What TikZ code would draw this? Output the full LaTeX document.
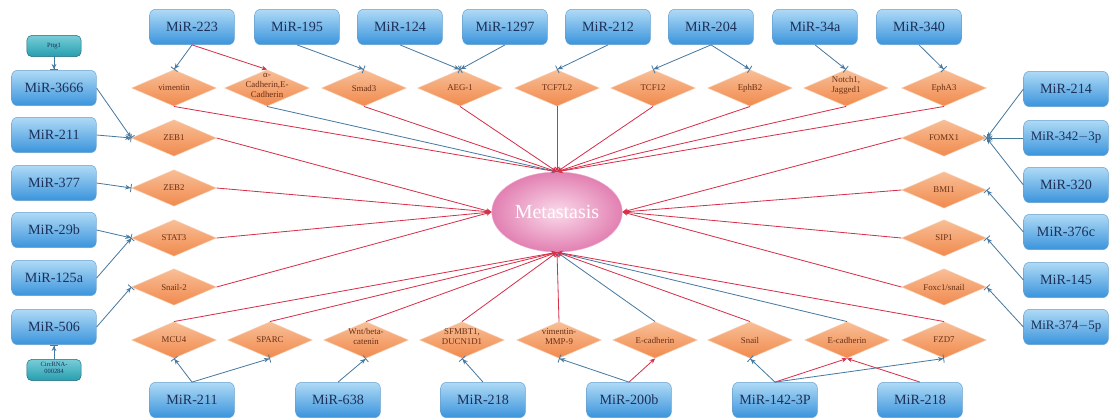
\documentclass[tikz,border=0pt]{standalone}
\usepackage{fontspec}
\setmainfont{Liberation Serif}
\usetikzlibrary{shapes.geometric}
\usetikzlibrary{arrows.meta}
\usetikzlibrary{positioning}

\definecolor{mirtop}{RGB}{175,218,246}
\definecolor{mirbot}{RGB}{58,148,220}
\definecolor{mirline}{RGB}{105,160,205}
\definecolor{mirtext}{RGB}{28,48,88}
\definecolor{tgttop}{RGB}{249,190,150}
\definecolor{tgtbot}{RGB}{240,138,78}
\definecolor{tgtline}{RGB}{246,205,175}
\definecolor{tgttext}{RGB}{105,48,20}
\definecolor{uptop}{RGB}{120,205,215}
\definecolor{upbot}{RGB}{38,158,175}
\definecolor{upline}{RGB}{30,105,118}
\definecolor{actred}{RGB}{214,48,74}
\definecolor{inhblue}{RGB}{72,122,160}
\definecolor{metin}{RGB}{250,218,234}
\definecolor{metout}{RGB}{226,128,178}
\definecolor{metline}{RGB}{235,170,205}

\newcommand{\dlines}[1]{\smash{\begin{tabular}{@{}c@{}}#1\end{tabular}}}

\tikzset{
mir/.style={rounded corners=5pt, draw=mirline, top color=mirtop, bottom color=mirbot,
  minimum width=72pt, minimum height=30pt, inner sep=0pt, text=mirtext,
  font=\fontsize{12}{12}\selectfont},
tgt/.style={diamond, draw=tgtline, top color=tgttop, bottom color=tgtbot, aspect=2.3,
  minimum width=72pt, minimum height=31pt, inner sep=0pt, text=tgttext,
  font=\fontsize{7.5}{8.5}\selectfont},
up/.style={rounded corners=4pt, draw=upline, top color=uptop, bottom color=upbot,
  minimum width=46pt, minimum height=18pt, inner sep=0pt, text=mirtext,
  font=\fontsize{5.5}{6}\selectfont},
act/.style={draw=actred, line width=0.7pt, -{Stealth[length=4.5pt,width=4pt]}},
inh/.style={draw=inhblue, line width=0.7pt, -{Stealth[length=4.5pt,width=4pt] Bar[width=7pt]}},
bl/.style={draw=inhblue, line width=0.7pt, -{Stealth[length=4.5pt,width=4pt]}}
}

\begin{document}
\begin{tikzpicture}[x=0.85pt,y=-0.85pt]
\useasboundingbox (0,0) rectangle (1113,418);

\node[ellipse, minimum width=89pt, minimum height=68pt, draw=metline,
  inner color=metin, outer color=metout,
  text=white, font=\fontsize{17}{17}\selectfont] (met) at (557,212) {Metastasis};

\node[mir] (m223) at (192,27) {MiR-223};
\node[mir] (m195) at (297,27) {MiR-195};
\node[mir] (m124) at (400,27) {MiR-124};
\node[mir] (m1297) at (505,27) {MiR-1297};
\node[mir] (m212) at (608,27) {MiR-212};
\node[mir] (m204) at (711,27) {MiR-204};
\node[mir] (m34a) at (815,27) {MiR-34a};
\node[mir] (m340) at (919,27) {MiR-340};

\node[tgt] (vim) at (174,88) {vimentin};
\node[tgt] (acad) at (267,88) {\dlines{α-\\Cadherin,E-\\Cadherin}};
\node[tgt] (smad) at (364,88) {Smad3};
\node[tgt] (aeg) at (460,88) {AEG-1};
\node[tgt] (tcfl) at (557,88) {TCF7L2};
\node[tgt] (tcf) at (653,88) {TCF12};
\node[tgt] (ephb) at (750,88) {EphB2};
\node[tgt] (notch) at (846,88) {\dlines{Notch1,\\Jagged1}};
\node[tgt] (epha) at (944,88) {EphA3};

\node[up] (pttg) at (54,46) {Pttg1};
\node[mir] (m3666) at (54,88) {MiR-3666};
\node[mir] (m211a) at (54,135) {MiR-211};
\node[mir] (m377) at (54,183) {MiR-377};
\node[mir] (m29b) at (54,230) {MiR-29b};
\node[mir] (m125a) at (54,278) {MiR-125a};
\node[mir] (m506) at (54,327) {MiR-506};
\node[up] (circ) at (54,370) {\dlines{CircRNA-\\000284}};

\node[tgt] (zeba) at (174,138) {ZEB1};
\node[tgt] (zebb) at (174,188) {ZEB2};
\node[tgt] (stat) at (174,238) {STAT3};
\node[tgt] (snailb) at (174,287) {Snail-2};

\node[mir] (m214) at (1066,89) {MiR-214};
\node[mir, font=\fontsize{11}{11}\selectfont] (m342) at (1066,138) {MiR-342$-$3p};
\node[mir] (m320) at (1066,185) {MiR-320};
\node[mir] (m376) at (1066,232) {MiR-376c};
\node[mir] (m145) at (1066,280) {MiR-145};
\node[mir, font=\fontsize{11}{11}\selectfont] (m374) at (1066,327) {MiR-374$-$5p};

\node[tgt] (fomx) at (944,138) {FOMX1};
\node[tgt] (bmi) at (944,190) {BMI1};
\node[tgt] (sip) at (944,238) {SIP1};
\node[tgt] (foxc) at (944,287) {Foxc1/snail};

\node[tgt] (mcu) at (174,340) {MCU4};
\node[tgt] (sparc) at (270,340) {SPARC};
\node[tgt] (wnt) at (366,340) {\dlines{Wnt/beta-\\catenin}};
\node[tgt] (sfm) at (462,340) {\dlines{SFMBT1,\\DUCN1D1}};
\node[tgt] (vmmp) at (559,340) {\dlines{vimentin-\\MMP-9}};
\node[tgt] (ecada) at (655,340) {E-cadherin};
\node[tgt] (snail) at (750,340) {Snail};
\node[tgt] (ecadb) at (847,340) {E-cadherin};
\node[tgt] (fzd) at (944,340) {FZD7};

\node[mir] (m211b) at (192,400) {MiR-211};
\node[mir] (m638) at (338,400) {MiR-638};
\node[mir] (m218a) at (483,400) {MiR-218};
\node[mir] (m200b) at (629,400) {MiR-200b};
\node[mir] (m142) at (775,400) {MiR-142-3P};
\node[mir] (m218b) at (920,400) {MiR-218};

\draw[act] (vim.south) -- (met.north);
\draw[bl] (acad.south) -- (met.north);
\draw[act] (smad.south) -- (met.north);
\draw[act] (aeg.south) -- (met.north);
\draw[act] (tcfl.south) -- (met.north);
\draw[act] (tcf.south) -- (met.north);
\draw[act] (ephb.south) -- (met.north);
\draw[act] (notch.south) -- (met.north);
\draw[act] (epha.south) -- (met.north);
\draw[act] (zeba.east) -- (met.west);
\draw[act] (zebb.east) -- (met.west);
\draw[act] (stat.east) -- (met.west);
\draw[act] (snailb.east) -- (met.west);
\draw[act] (fomx.west) -- (met.east);
\draw[act] (bmi.west) -- (met.east);
\draw[act] (sip.west) -- (met.east);
\draw[act] (foxc.west) -- (met.east);
\draw[act] (mcu.north) -- (met.south);
\draw[act] (sparc.north) -- (met.south);
\draw[act] (wnt.north) -- (met.south);
\draw[act] (sfm.north) -- (met.south);
\draw[act] (vmmp.north) -- (met.south);
\draw[bl] (ecada.north) -- (met.south);
\draw[act] (snail.north) -- (met.south);
\draw[bl] (ecadb.north) -- (met.south);
\draw[act] (fzd.north) -- (met.south);

\draw[inh] (m223.south) -- (vim.north);
\draw[act] (m223.south) -- (acad.north);
\draw[inh] (m195.south) -- (smad.north);
\draw[inh] (m124.south) -- (aeg.north);
\draw[inh] (m1297.south) -- (aeg.north);
\draw[inh] (m212.south) -- (tcfl.north);
\draw[inh] (m204.south) -- (tcf.north);
\draw[inh] (m204.south) -- (ephb.north);
\draw[inh] (m34a.south) -- (notch.north);
\draw[inh] (m340.south) -- (epha.north);

\draw[inh] (pttg.south) -- (m3666.north);
\draw[inh] (m3666.east) -- (zeba.west);
\draw[inh] (m211a.east) -- (zeba.west);
\draw[inh] (m377.east) -- (zebb.west);
\draw[inh] (m29b.east) -- (stat.west);
\draw[inh] (m125a.east) -- (stat.west);
\draw[inh] (m506.east) -- (snailb.west);
\draw[inh] (circ.north) -- (m506.south);

\draw[inh] (m214.west) -- (fomx.east);
\draw[inh] (m342.west) -- (fomx.east);
\draw[inh] (m320.west) -- (fomx.east);
\draw[inh] (m376.west) -- (bmi.east);
\draw[inh] (m145.west) -- (sip.east);
\draw[inh] (m374.west) -- (foxc.east);

\draw[inh] (m211b.north) -- (mcu.south);
\draw[inh] (m211b.north) -- (sparc.south);
\draw[inh] (m638.north) -- (wnt.south);
\draw[inh] (m218a.north) -- (sfm.south);
\draw[inh] (m200b.north) -- (vmmp.south);
\draw[act] (m200b.north) -- (ecada.south);
\draw[inh] (m142.north) -- (snail.south);
\draw[act] (m142.north) -- (ecadb.south);
\draw[inh] (m142.north) -- (fzd.south);
\draw[act] (m218b.north) -- (ecadb.south);
\end{tikzpicture}
\end{document}
